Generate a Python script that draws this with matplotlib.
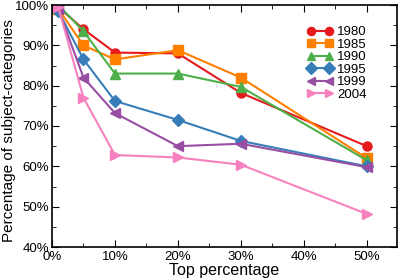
import numpy as np
import matplotlib.pyplot as plt
from matplotlib.ticker import MultipleLocator, FuncFormatter

plt.rcParams['font.family'] = ['Liberation Sans', 'DejaVu Sans']

top = [1, 5, 10, 20, 30, 50]
years = ["1980", "1985", "1990", "1995", "1999", "2004"]
v1980 = [99.5, 94.0, 88.2, 88.0, 78.2, 65.0]
v1985 = [99.0, 90.0, 86.5, 88.8, 82.0, 62.0]
v1990 = [100.0, 93.5, 83.0, 83.0, 79.7, 61.5]
v1995 = [98.5, 86.5, 76.2, 71.5, 66.3, 60.0]
v1999 = [99.0, 82.0, 73.2, 65.0, 65.6, 59.8]
v2004 = [99.5, 77.0, 62.8, 62.2, 60.4, 48.2]
series = [v1980, v1985, v1990, v1995, v1999, v2004]

colors = ["#e41a1c", "#ff7f00", "#4daf4a", "#377eb8", "#984ea3", "#f781bf"]
markers = ["o", "s", "^", "D", "<", ">"]

fig = plt.figure(figsize=(3.99, 2.79), dpi=100)
ax = fig.add_axes([52/399, 1 - 247/279, 345/399, 242/279])

for lab, vals, c, m in zip(years, series, colors, markers):
    ax.plot(top, vals, color=c, marker=m, markersize=6.5, linewidth=1.5, label=lab)

ax.set_xlim(0, 54.8)
ax.set_ylim(40, 100)
ax.xaxis.set_major_locator(MultipleLocator(10))
ax.xaxis.set_minor_locator(MultipleLocator(5))
ax.yaxis.set_major_locator(MultipleLocator(10))
ax.yaxis.set_minor_locator(MultipleLocator(5))
ax.xaxis.set_major_formatter(FuncFormatter(lambda v, p: f"{v:.0f}%"))
ax.yaxis.set_major_formatter(FuncFormatter(lambda v, p: f"{v:.0f}%"))
ax.tick_params(which="both", direction="in", top=True, right=True, labelsize=9.5)
ax.tick_params(which="major", length=5)
ax.tick_params(which="minor", length=3)
ax.tick_params(axis="x", pad=3)
ax.tick_params(axis="y", pad=2)
for s in ax.spines.values():
    s.set_linewidth(1.2)

ax.set_xlabel("Top percentage", fontsize=11.5, labelpad=0)
ax.set_ylabel("Percentage of subject-categories", fontsize=11, va="center")
ax.yaxis.set_label_coords(-0.125, 0.48)

ax.legend(loc="upper right", bbox_to_anchor=(0.935, 0.945), frameon=False,
          fontsize=9.5, numpoints=2, markerscale=0.9, handlelength=2.0,
          handletextpad=0.3, labelspacing=0.02, borderpad=0.1)

fig.savefig("out.png", dpi=100)
